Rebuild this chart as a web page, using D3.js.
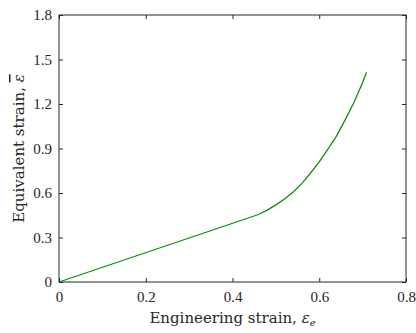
<html>
  <head>
    <style>
      body {
        margin:0;
        background:white;
        font-family:"DejaVu Serif", "Liberation Serif", serif;
      }
      .axis .domain {
        display:none;
      }
      .axis .tick line {
        stroke:#262626;
      }
      .axis .tick text {
        fill:#262626;
        font-size:15px;
        font-family:"Liberation Serif", "DejaVu Serif", serif;
      }
      .frame {
        fill:none;
        stroke:#262626;
        stroke-width:1;
      }
      .curve {
        fill:none;
        stroke:#138a13;
        stroke-width:1.3;
      }
      .label {
        fill:#262626;
        font-size:15px;
      }
    </style>
  </head>
  <body>
    <div class="graph"></div>
    <script src="https://cdn.jsdelivr.net/npm/d3@7"></script>
    <script>
      // engineering strain vs equivalent strain
      var engStrain = [0, 0.46, 0.48, 0.50, 0.52, 0.54, 0.56, 0.58, 0.60, 0.62, 0.64, 0.66, 0.68, 0.70, 0.709];
      var eqStrain  = [0, 0.455, 0.485, 0.52, 0.56, 0.607, 0.665, 0.735, 0.81, 0.895, 0.985, 1.095, 1.21, 1.345, 1.414];

      var xTicks = [0, 0.2, 0.4, 0.6, 0.8];
      var yTicks = [0, 0.3, 0.6, 0.9, 1.2, 1.5, 1.8];

      var width = 416;
      var height = 333;
      var margin = {top:15, right:10, bottom:51, left:59};
      var w = width - margin.left - margin.right;
      var h = height - margin.top - margin.bottom;

      var x = d3.scaleLinear().domain([0, 0.8]).range([0, w]);
      var y = d3.scaleLinear().domain([0, 1.8]).range([h, 0]);

      var svg = d3.select(".graph").append("svg")
        .attr("width", width)
        .attr("height", height);

      var g = svg.append("g")
        .attr("transform", "translate(" + margin.left + "," + margin.top + ")");

      var fmt = function (d) { return d === 0 ? "0" : d3.format(".1f")(d); };

      // bottom + left with labels, top + right mirror ticks (inward)
      g.append("g")
        .attr("class", "axis")
        .attr("transform", "translate(0," + h + ")")
        .call(d3.axisBottom(x).tickValues(xTicks).tickFormat(fmt).tickSizeInner(-4).tickSizeOuter(0).tickPadding(9));

      g.append("g")
        .attr("class", "axis")
        .call(d3.axisLeft(y).tickValues(yTicks).tickFormat(fmt).tickSizeInner(-4).tickSizeOuter(0).tickPadding(7));

      g.append("g")
        .attr("class", "axis")
        .call(d3.axisTop(x).tickValues(xTicks).tickFormat("").tickSizeInner(-4).tickSizeOuter(0));

      g.append("g")
        .attr("class", "axis")
        .attr("transform", "translate(" + w + ",0)")
        .call(d3.axisRight(y).tickValues(yTicks).tickFormat("").tickSizeInner(-4).tickSizeOuter(0));

      g.append("rect")
        .attr("class", "frame")
        .attr("x", 0)
        .attr("y", 0)
        .attr("width", w)
        .attr("height", h);

      var pts = engStrain.map(function (d, i) { return [d, eqStrain[i]]; });

      var line = d3.line()
        .x(function (d) { return x(d[0]); })
        .y(function (d) { return y(d[1]); });

      g.append("path")
        .datum(pts)
        .attr("class", "curve")
        .attr("d", line);

      // x label
      var xl = svg.append("text")
        .attr("class", "label")
        .attr("x", margin.left + w / 2)
        .attr("y", 323)
        .attr("text-anchor", "middle");
      xl.append("tspan").text("Engineering strain, ");
      xl.append("tspan").attr("font-style", "italic").text("ε");
      xl.append("tspan").attr("font-style", "italic").attr("font-size", "10px").attr("dy", 3).text("e");

      // y label
      var yl = svg.append("text")
        .attr("class", "label")
        .attr("transform", "translate(24," + (margin.top + h / 2) + ") rotate(-90)")
        .attr("text-anchor", "middle");
      yl.append("tspan").text("Equivalent strain, ");
      yl.append("tspan").attr("font-style", "italic").attr("text-decoration", "overline").text("ε");
    </script>
  </body>
</html>
